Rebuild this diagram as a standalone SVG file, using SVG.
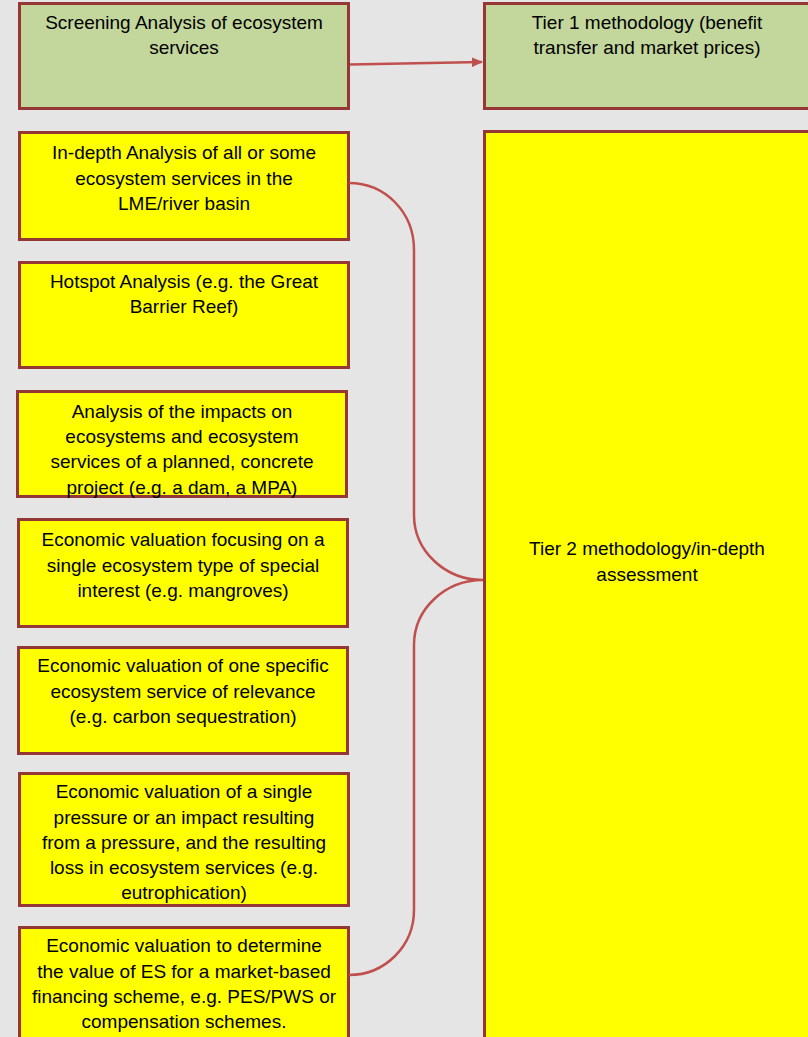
<svg xmlns="http://www.w3.org/2000/svg" width="808" height="1037" viewBox="0 0 808 1037">
  <defs>
    <style>
      .box { stroke: #953735; stroke-width: 3; }
      .green { fill: #c3d69b; }
      .yellow { fill: #ffff00; }
      .lbl { font-family: "Liberation Sans", Arial, sans-serif; font-size: 19px; fill: #000; text-anchor: middle; }
      .link { fill: none; stroke: #c0504d; stroke-width: 2.5; }
    </style>
    <marker id="arrow" viewBox="0 0 10 10" refX="9" refY="5" markerWidth="4.6" markerHeight="4" orient="auto" markerUnits="strokeWidth" preserveAspectRatio="none">
      <path d="M0,0 L10,5 L0,10 Z" fill="#c0504d"/>
    </marker>
  </defs>

  <rect x="0" y="0" width="808" height="1037" fill="#e5e5e5"/>

  <!-- top row -->
  <g id="screening">
    <rect class="box green" x="19.5" y="3.5" width="329" height="105"/>
    <text class="lbl" x="184" y="29">Screening Analysis of ecosystem</text>
    <text class="lbl" x="184" y="54">services</text>
  </g>
  <g id="tier1">
    <rect class="box green" x="484.5" y="3.5" width="340" height="105"/>
    <text class="lbl" x="647" y="29">Tier 1 methodology (benefit</text>
    <text class="lbl" x="647" y="54">transfer and market prices)</text>
  </g>

  <!-- in-depth assessment target -->
  <g id="tier2">
    <rect class="box yellow" x="484.5" y="131.5" width="340" height="920"/>
    <text class="lbl" x="647" y="555">Tier 2 methodology/in-depth</text>
    <text class="lbl" x="647" y="581">assessment</text>
  </g>

  <!-- analysis options -->
  <g id="indepth">
    <rect class="box yellow" x="19.5" y="132.5" width="329" height="107"/>
    <text class="lbl" x="184" y="159">In-depth Analysis of all or some</text>
    <text class="lbl" x="184" y="185">ecosystem services in the</text>
    <text class="lbl" x="184" y="210">LME/river basin</text>
  </g>
  <g id="hotspot">
    <rect class="box yellow" x="19.5" y="262.5" width="329" height="105"/>
    <text class="lbl" x="184" y="288">Hotspot Analysis (e.g. the Great</text>
    <text class="lbl" x="184" y="313">Barrier Reef)</text>
  </g>
  <g id="impacts">
    <rect class="box yellow" x="17.5" y="391.5" width="329" height="105"/>
    <text class="lbl" x="182" y="418">Analysis of the impacts on</text>
    <text class="lbl" x="182" y="443">ecosystems and ecosystem</text>
    <text class="lbl" x="182" y="468">services of a planned, concrete</text>
    <text class="lbl" x="182" y="494">project (e.g. a dam, a MPA)</text>
  </g>
  <g id="ecosystem-type">
    <rect class="box yellow" x="18.5" y="519.5" width="329" height="107"/>
    <text class="lbl" x="183" y="546">Economic valuation focusing on a</text>
    <text class="lbl" x="183" y="572">single ecosystem type of special</text>
    <text class="lbl" x="183" y="597">interest (e.g. mangroves)</text>
  </g>
  <g id="single-service">
    <rect class="box yellow" x="18.5" y="647.5" width="329" height="106"/>
    <text class="lbl" x="183" y="672">Economic valuation of one specific</text>
    <text class="lbl" x="183" y="698">ecosystem service of relevance</text>
    <text class="lbl" x="183" y="723">(e.g. carbon sequestration)</text>
  </g>
  <g id="pressure">
    <rect class="box yellow" x="19.5" y="773.5" width="329" height="132"/>
    <text class="lbl" x="184" y="798">Economic valuation of a single</text>
    <text class="lbl" x="184" y="824">pressure or an impact resulting</text>
    <text class="lbl" x="184" y="849">from a pressure, and the resulting</text>
    <text class="lbl" x="184" y="874">loss in ecosystem services (e.g.</text>
    <text class="lbl" x="184" y="899">eutrophication)</text>
  </g>
  <g id="financing">
    <rect class="box yellow" x="19.5" y="927.5" width="329" height="120"/>
    <text class="lbl" x="184" y="952">Economic valuation to determine</text>
    <text class="lbl" x="184" y="978">the value of ES for a market-based</text>
    <text class="lbl" x="184" y="1003">financing scheme, e.g. PES/PWS or</text>
    <text class="lbl" x="184" y="1028">compensation schemes.</text>
  </g>

  <!-- connectors -->
  <g id="connectors">
    <path class="link" d="M350,64.5 L482,62" marker-end="url(#arrow)"/>
    <path class="link" d="M349,183 C385,183 414,212 414,250 L414,515 C414,551 445,580 483,580 C445,580 414,609 414,645 L414,910 C414,946 385,975 349,975"/>
  </g>
</svg>
